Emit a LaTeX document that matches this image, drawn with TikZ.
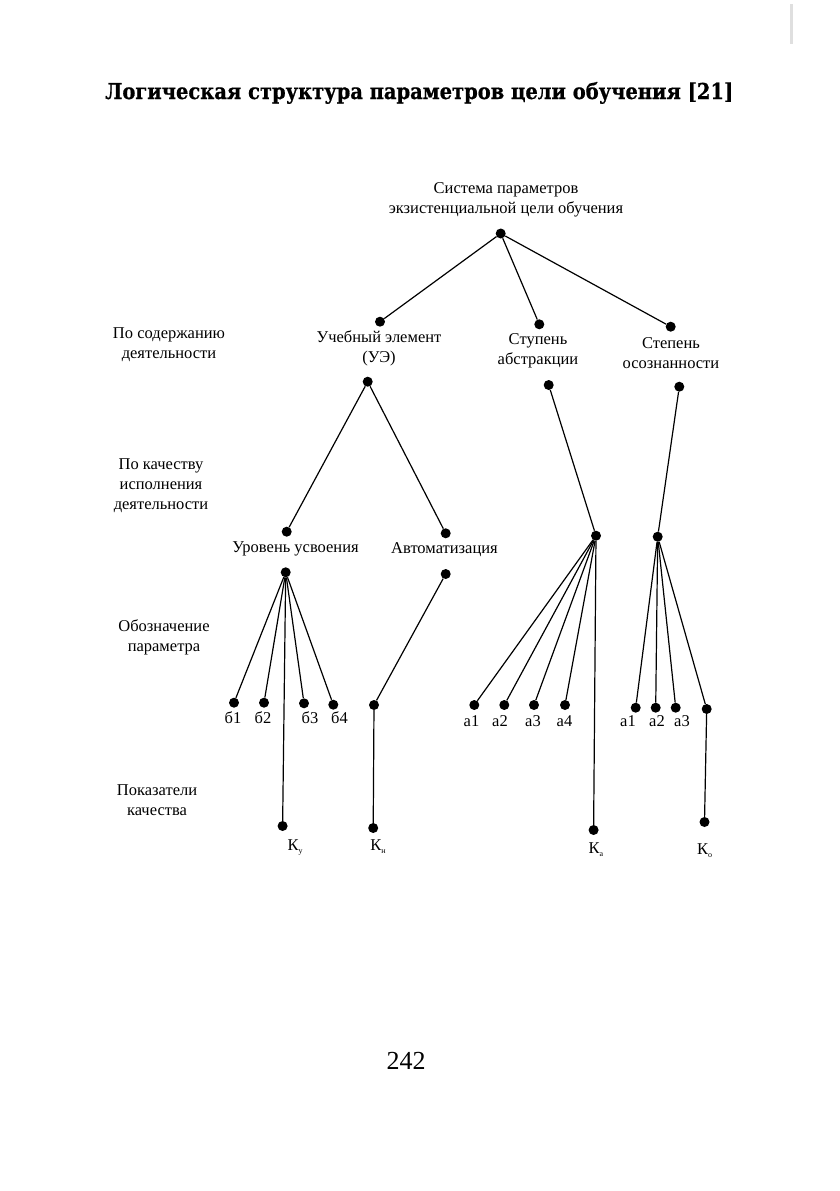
\documentclass[tikz,border=0pt]{standalone}
\usepackage{fontspec}
\usepackage{graphicx}
\setmainfont{Liberation Serif}
\newfontfamily\titlefont{DejaVu Serif}[BoldFeatures={FakeBold=0.8}]
\newcommand{\Ksub}[1]{К\raisebox{-0.2em}{\fontsize{8}{8}\selectfont #1}}
\begin{document}
\begin{tikzpicture}[x=1pt,y=-1pt,
  dot/.style={circle,fill=black,inner sep=0pt,minimum size=10pt},
  lbl/.style={inner sep=0pt,align=center,font=\fontsize{16.5}{20}\selectfont,text height=0.7em,text depth=0.2em},
  mlbl/.style={inner sep=0pt,align=center,font=\fontsize{16.5}{20}\selectfont},
  edge/.style={line width=1.2pt}]
\useasboundingbox (0,0) rectangle (839,1191);
\fill[white] (0,0) rectangle (839,1191);
% scan mark
\draw[gray!25,line width=3pt] (791,4) -- (791,44);
% title
\node[inner sep=0pt,anchor=base west] (title) at (105,99)
  {\resizebox{628pt}{17pt}{\titlefont\bfseries Логическая структура параметров цели обучения [21]}};
% root
\node[mlbl] (rootlbl) at (506,200) {Система параметров\\экзистенциальной цели обучения};
\node[dot] (root) at (500.7,233.5) {};
% level 1
\node[dot] (ue) at (380,321.7) {};
\node[dot] (st) at (539.3,324.3) {};
\node[dot] (sp) at (670.7,326.7) {};
\node[mlbl] (uelbl) at (379,348) {Учебный элемент\\(УЭ)};
\node[mlbl] (stlbl) at (538,351) {Ступень\\абстракции};
\node[mlbl] (splbl) at (671,353) {Степень\\осознанности};
\node[dot] (ue2) at (367.7,381.7) {};
\node[dot] (st2) at (548.7,385) {};
\node[dot] (sp2) at (679.3,386.7) {};
% left labels
\node[mlbl] (l1) at (169,345) {По содержанию\\деятельности};
\node[mlbl] (l2) at (161,486) {По качеству\\исполнения\\деятельности};
\node[mlbl] (l3) at (164,637) {Обозначение\\параметра};
\node[mlbl] (l4) at (157,800) {Показатели\\качества};
% level 2
\node[dot] (ur) at (286.7,531.7) {};
\node[dot] (av) at (445.7,533.3) {};
\node[lbl] (urlbl) at (295.5,550) {Уровень усвоения};
\node[lbl] (avlbl) at (444.5,551) {Автоматизация};
\node[dot] (ur2) at (285.7,572.3) {};
\node[dot] (av2) at (445.7,574) {};
\node[dot] (st3) at (596,535.7) {};
\node[dot] (sp3) at (657.7,536.7) {};
% parameters
\node[dot] (b1) at (234,702.7) {};
\node[dot] (b2) at (264,702.7) {};
\node[dot] (b3) at (304,703.3) {};
\node[dot] (b4) at (333.3,704.7) {};
\node[dot] (av3) at (374,705) {};
\node[dot] (a1) at (474.3,705) {};
\node[dot] (a2) at (504.3,705) {};
\node[dot] (a3) at (534,705) {};
\node[dot] (a4) at (565,705) {};
\node[dot] (c1) at (635.7,707.7) {};
\node[dot] (c2) at (655.7,707.7) {};
\node[dot] (c3) at (675.7,707.7) {};
\node[dot] (c4) at (706.7,709) {};
\node[lbl] (b1l) at (233,721) {б1};
\node[lbl] (b2l) at (263,721) {б2};
\node[lbl] (b3l) at (310,721) {б3};
\node[lbl] (b4l) at (339.5,721) {б4};
\node[lbl] (a1l) at (471.5,723.5) {а1};
\node[lbl] (a2l) at (500,723.5) {а2};
\node[lbl] (a3l) at (533,723.5) {а3};
\node[lbl] (a4l) at (564.5,723.5) {а4};
\node[lbl] (c1l) at (628,724.4) {а1};
\node[lbl] (c2l) at (657,724.4) {а2};
\node[lbl] (c3l) at (682,724.4) {а3};
% indicators
\node[dot] (ku) at (282.6,826) {};
\node[dot] (kn) at (373.2,828) {};
\node[dot] (ka) at (593.6,830) {};
\node[dot] (ko) at (704.5,822) {};
\node[lbl] (kul) at (295,848) {\Ksub{у}};
\node[lbl] (knl) at (378,848) {\Ksub{н}};
\node[lbl] (kal) at (596,851) {\Ksub{а}};
\node[lbl] (kol) at (704.5,851.5) {\Ksub{о}};
% page number
\node[inner sep=0pt,font=\fontsize{26}{30}\selectfont] (page) at (406,1061) {242};
% connectors
\draw[edge] (root) -- (ue);
\draw[edge] (root) -- (st);
\draw[edge] (root) -- (sp);
\draw[edge] (ue2) -- (ur);
\draw[edge] (ue2) -- (av);
\draw[edge] (st2) -- (st3);
\draw[edge] (sp2) -- (sp3);
\foreach \t in {b1,b2,b3,b4,ku} \draw[edge] (ur2) -- (\t);
\draw[edge] (av2) -- (av3);
\draw[edge] (av3) -- (kn);
\foreach \t in {a1,a2,a3,a4,ka} \draw[edge] (st3) -- (\t);
\foreach \t in {c1,c2,c3,c4} \draw[edge] (sp3) -- (\t);
\draw[edge] (c4) -- (ko);
\end{tikzpicture}
\end{document}
